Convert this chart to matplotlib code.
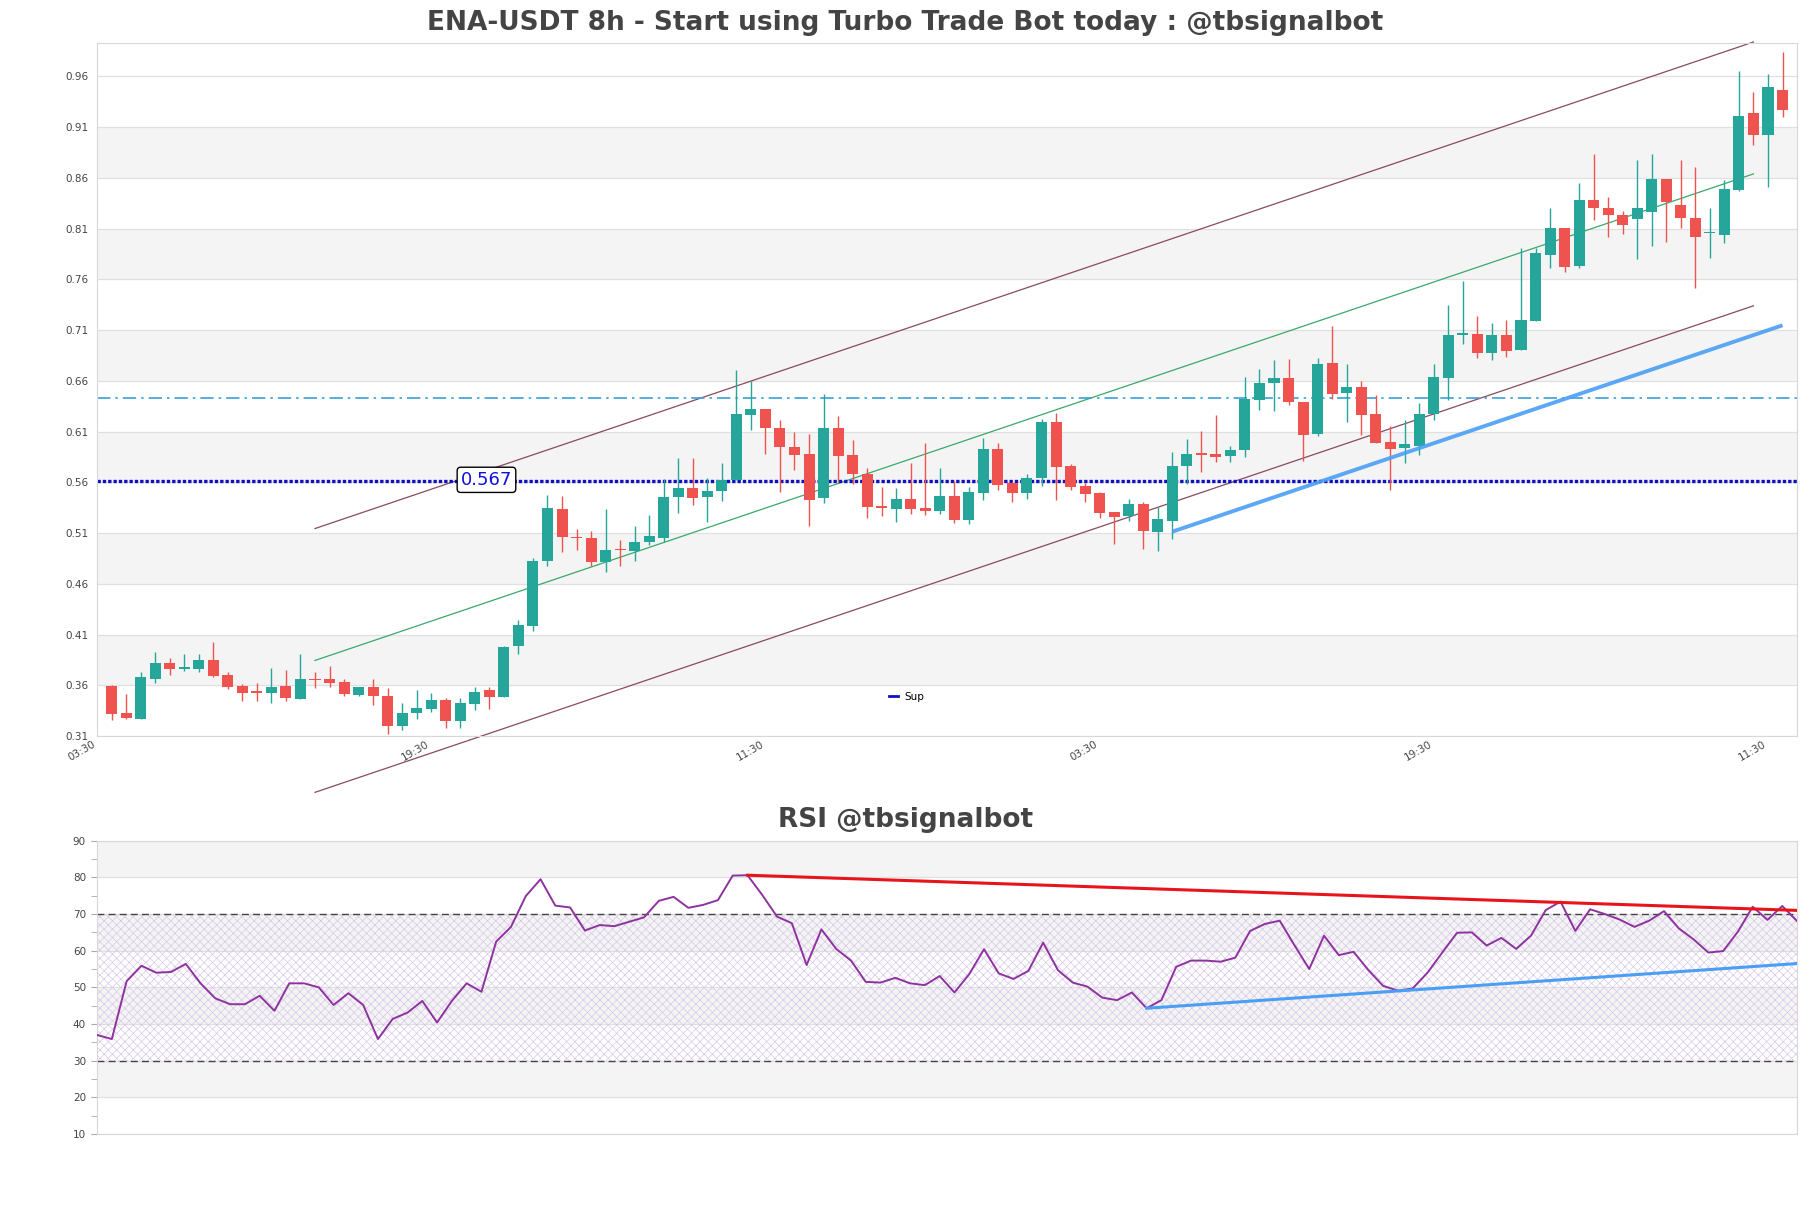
import matplotlib
matplotlib.use("Agg")
import matplotlib.pyplot as plt
from matplotlib.lines import Line2D
import numpy as np

# ---------------- data ----------------
opens = [0.359,0.3323,0.3264,0.3667,0.3815,0.3756,0.3756,0.3845,0.3697,0.3589,
         0.354,0.3523,0.3589,0.3464,0.3658,0.3658,0.3628,0.350,0.3579,0.349,
         0.3198,0.3326,0.3366,0.3451,0.3248,0.3418,0.3556,0.3484,0.3986,0.4189,
         0.4822,0.5337,0.5065,0.5052,0.4812,0.4937,0.4927,0.5009,0.5052,0.5452,
         0.5544,0.5452,0.5511,0.5622,0.6265,0.6321,0.6134,0.5944,0.5878,0.5442,
         0.6134,0.5868,0.5681,0.537,0.5337,0.5435,0.5347,0.5321,0.5468,0.5232,
         0.5494,0.5927,0.5593,0.5494,0.5642,0.6196,0.5763,0.5567,0.5494,0.5304,
         0.5264,0.5387,0.5114,0.5222,0.5763,0.5888,0.5878,0.5862,0.5921,0.6413,
         0.6583,0.6633,0.6396,0.6075,0.6774,0.6478,0.6544,0.6272,0.5993,0.5937,
         0.596,0.6272,0.6626,0.7049,0.7059,0.6872,0.7049,0.6905,0.7187,0.784,
         0.8109,0.7731,0.8387,0.8305,0.8239,0.8197,0.8262,0.8591,0.8338,0.8207,
         0.8056,0.8036,0.8486,0.924,0.9027,0.947]
highs = [0.360,0.3517,0.3736,0.3927,0.3868,0.3913,0.3913,0.4025,0.373,0.3608,
         0.3625,0.3766,0.3746,0.3913,0.3736,0.3795,0.3658,0.3585,0.3658,0.3576,
         0.3428,0.3549,0.3526,0.3477,0.3471,0.3585,0.3582,0.3990,0.4245,0.4855,
         0.5475,0.5468,0.514,0.5124,0.5337,0.5032,0.5167,0.5281,0.5632,0.5845,
         0.5839,0.5645,0.579,0.6705,0.66,0.6321,0.6213,0.6098,0.6077,0.6469,
         0.6255,0.6016,0.574,0.555,0.5544,0.579,0.5986,0.574,0.5616,0.555,
         0.6036,0.5986,0.5600,0.568,0.6229,0.6282,0.578,0.5593,0.5507,0.5304,
         0.5435,0.5403,0.5353,0.5904,0.6026,0.6108,0.6262,0.5954,0.6642,0.6715,
         0.6803,0.6813,0.6396,0.683,0.7141,0.6764,0.66,0.6459,0.6157,0.6216,
         0.6387,0.6764,0.7344,0.7586,0.724,0.7174,0.72,0.7912,0.7912,0.8305,
         0.8109,0.8551,0.884,0.8414,0.8272,0.8781,0.884,0.8591,0.8781,0.8706,
         0.8299,0.8584,0.965,0.9444,0.9627,0.9837]
lows = [0.3257,0.3271,0.3264,0.3622,0.3697,0.374,0.373,0.3681,0.356,0.3444,
        0.3444,0.3425,0.3444,0.3464,0.3572,0.3585,0.3494,0.3494,0.3402,0.3116,
        0.3159,0.3271,0.3333,0.3182,0.3182,0.3356,0.3369,0.3484,0.3904,0.414,
        0.478,0.4917,0.4936,0.4773,0.4714,0.4773,0.4822,0.4986,0.5009,0.5298,
        0.538,0.5206,0.5419,0.5622,0.6118,0.5878,0.5508,0.5721,0.5173,0.5396,
        0.5606,0.5588,0.5245,0.5271,0.5206,0.5288,0.5281,0.5288,0.5199,0.5189,
        0.5429,0.5527,0.5403,0.5435,0.5567,0.5429,0.5527,0.5403,0.5245,0.4988,
        0.5222,0.4947,0.4927,0.5042,0.5588,0.5698,0.5797,0.5797,0.5852,0.6314,
        0.6304,0.6364,0.5806,0.6059,0.642,0.6196,0.6065,0.5986,0.5527,0.579,
        0.5872,0.6216,0.6413,0.696,0.683,0.6803,0.6836,0.6905,0.7187,0.7708,
        0.7672,0.7708,0.819,0.8017,0.8051,0.7804,0.7928,0.7967,0.8102,0.7518,
        0.7807,0.7961,0.8469,0.8929,0.8509,0.92]
closes = [0.332,0.3277,0.3677,0.3815,0.3756,0.3776,0.3845,0.3687,0.3579,0.3523,
          0.3523,0.3585,0.3471,0.3658,0.3652,0.3622,0.3513,0.3585,0.349,0.3198,
          0.333,0.3372,0.3451,0.3248,0.3421,0.3536,0.3484,0.3976,0.4199,0.4822,
          0.5347,0.5065,0.5048,0.4812,0.4934,0.4930,0.5009,0.5068,0.5452,0.5544,
          0.5442,0.5511,0.5622,0.6272,0.6321,0.6134,0.5944,0.5872,0.5429,0.6134,
          0.5855,0.5681,0.536,0.535,0.5435,0.5337,0.5321,0.5468,0.5232,0.5501,
          0.5927,0.5573,0.5494,0.5642,0.6196,0.5753,0.5557,0.5484,0.5298,0.5261,
          0.5387,0.5124,0.5239,0.5763,0.5878,0.5872,0.5852,0.5918,0.6426,0.6583,
          0.6633,0.6393,0.6068,0.6764,0.6469,0.6544,0.6265,0.5986,0.5927,0.5977,
          0.6272,0.6639,0.7049,0.7069,0.6872,0.7049,0.6895,0.7197,0.7856,0.8109,
          0.7722,0.8378,0.8305,0.8233,0.8135,0.8305,0.8591,0.8361,0.8207,0.802,
          0.8062,0.8492,0.9214,0.9027,0.9496,0.9273]
doji_red = [14]  # candles drawn red although open ~ close

rsi = [37.0,35.9,51.7,55.9,54.0,54.2,56.4,51.1,47.0,45.4,
       45.4,47.7,43.6,51.1,51.1,50.0,45.2,48.4,45.2,35.9,
       41.4,43.1,46.3,40.4,46.3,51.1,48.8,62.5,66.5,74.9,
       79.5,72.3,71.8,65.5,67.0,66.7,67.9,69.1,73.6,74.7,
       71.7,72.5,73.8,80.5,80.6,75.2,69.3,67.5,56.1,65.8,
       60.5,57.3,51.5,51.3,52.6,51.1,50.6,53.1,48.6,53.6,
       60.4,53.8,52.3,54.5,62.2,54.7,51.3,50.2,47.2,46.5,
       48.6,44.3,46.5,55.6,57.3,57.3,57.0,58.1,65.4,67.3,
       68.2,61.5,55.0,64.1,58.8,59.7,54.7,50.4,49.1,49.7,
       54.0,59.5,64.9,65.0,61.4,63.5,60.5,64.1,71.1,73.4,
       65.4,71.3,70.0,68.5,66.5,68.2,70.8,66.1,63.1,59.5,
       59.9,65.2,72.0,68.4,72.2,68.1]

xtick_pos = [-1, 22, 45, 68, 91, 114]
xtick_labels = ['03:30', '19:30', '11:30', '03:30', '19:30', '11:30']
ytick_vals = [0.31, 0.36, 0.41, 0.46, 0.51, 0.56, 0.61, 0.66, 0.71, 0.76, 0.81, 0.86, 0.91, 0.96]

# channel (middle line, offset), support line, levels
chan_x = [14, 113]
chan_mid = [0.3845, 0.864]
chan_off = 0.13
sup_x = [73, 115]
sup_y = [0.5114, 0.7148]
level_dashdot = 0.6427
level_sup = 0.5615
level_label = "0.567"

rsi_res_x = [44, 115]
rsi_res_y = [80.6, 71.0]
rsi_sup_x = [71, 115]
rsi_sup_y = [44.3, 56.5]

# ---------------- figure ----------------
GREEN = '#26a69a'
RED = '#ef5350'
TXT = '#444444'
BAND = '#f4f4f4'
GRID = '#e0e0e0'

fig = plt.figure(figsize=(18.11, 12.08), dpi=100)
ax1 = fig.add_axes([0.0536, 0.3907, 0.9387, 0.5737])
ax2 = fig.add_axes([0.0536, 0.0613, 0.9387, 0.2427])

n = len(opens)
x = np.arange(n)
ax1.set_xlim(-1, n)
ax1.set_ylim(0.31, 0.993)

# bands
for lo in [0.36, 0.46, 0.56, 0.66, 0.76, 0.86]:
    ax1.axhspan(lo, lo + 0.05, color=BAND, zorder=0, lw=0)
for v in ytick_vals:
    ax1.axhline(v, color=GRID, lw=0.9, zorder=0.5)

# candles
o = np.array(opens); c = np.array(closes); h = np.array(highs); l = np.array(lows)
cols = [GREEN if (c[i] >= o[i] and i not in doji_red) else RED for i in range(n)]
ax1.vlines(x, l, h, colors=cols, lw=1.0, zorder=3)
bottoms = np.minimum(o, c)
heights = np.maximum(np.abs(c - o), 0.0012)
ax1.bar(x, heights, bottom=bottoms, width=0.76, color=cols, zorder=4, lw=0)

# channel
cm = np.array(chan_mid)
ax1.plot(chan_x, cm, color='#3aa96a', lw=0.9, zorder=2)
ax1.plot(chan_x, cm + chan_off, color='#8a4a5c', lw=0.9, zorder=2, clip_on=False)
ax1.plot(chan_x, cm - chan_off, color='#8a4a5c', lw=0.9, zorder=2, clip_on=False)
# support trend line
ax1.plot(sup_x, sup_y, color='#4a9ff5', lw=2.8, alpha=0.9, zorder=5, solid_capstyle='butt')
# levels
ax1.axhline(level_dashdot, color='#3a9fd6', lw=1.2, ls=(0, (8, 3, 1.5, 3)), zorder=2)
ax1.axhline(level_sup, color='#1010c0', lw=2.4, ls=(0, (1, 0.6)), zorder=2)
ax1.text(25.8, level_sup + 0.001, level_label, color='#1010dd', fontsize=13, ha='center', va='center',
         zorder=6, bbox=dict(boxstyle='round,pad=0.2', fc='white', ec='black', lw=1.0))

ax1.set_yticks(ytick_vals)
ax1.set_yticklabels([f"{v:.2f}" for v in ytick_vals])
ax1.set_xticks(xtick_pos)
ax1.set_xticklabels(xtick_labels, rotation=30, ha='right')
ax1.tick_params(axis='both', length=0, labelsize=7.5, labelcolor=TXT, pad=6)
ax1.tick_params(axis='x', pad=2)
for s in ax1.spines.values():
    s.set_color('#d8d8d8')

leg = ax1.legend([Line2D([0], [0], color='#1010c0', lw=2)], ['Sup'], loc='center',
                 bbox_to_anchor=(0.476, 0.057), frameon=False, fontsize=7.5,
                 handlelength=0.9, handletextpad=0.6)

# ---------------- RSI ----------------
xr = np.arange(len(rsi))
ax2.set_xlim(0, len(rsi) - 1)
ax2.set_ylim(10, 90)
for lo in [20, 40, 60, 80]:
    ax2.axhspan(lo, lo + 10, color=BAND, zorder=0, lw=0)
for v in range(10, 91, 10):
    ax2.axhline(v, color=GRID, lw=0.9, zorder=0.5)
plt.rcParams['hatch.linewidth'] = 0.5
ax2.fill_between([0, len(rsi) - 1], 30, 70, facecolor='none', hatch='xxxx',
                 edgecolor='#d8c8e8', lw=0, zorder=1)
ax2.axhline(30, color='#444444', lw=1.0, ls=(0, (5, 3)), zorder=2)
ax2.axhline(70, color='#444444', lw=1.0, ls=(0, (5, 3)), zorder=2)
ax2.plot(xr, rsi, color='#8e32a0', lw=1.4, zorder=4)
ax2.plot(rsi_res_x, rsi_res_y, color='#e8141c', lw=2.2, zorder=5)
ax2.plot(rsi_sup_x, rsi_sup_y, color='#4a9ff5', lw=2.2, zorder=5)

ax2.set_yticks(range(10, 91, 10))
ax2.set_yticks(range(15, 90, 10), minor=True)
ax2.set_xticks([])
ax2.tick_params(axis='y', which='major', length=4, color='#aaaaaa', labelsize=7.5, labelcolor=TXT, pad=4)
ax2.tick_params(axis='y', which='minor', length=4, color='#aaaaaa')
for s in ax2.spines.values():
    s.set_color('#d8d8d8')

fig.text(0.5, 0.981, "ENA-USDT 8h - Start using Turbo Trade Bot today : @tbsignalbot",
         ha='center', va='center', fontsize=19, fontweight='bold', color=TXT)
fig.text(0.5, 0.3215, "RSI @tbsignalbot", ha='center', va='center',
         fontsize=19, fontweight='bold', color=TXT)

fig.savefig("out.png", dpi=100)
